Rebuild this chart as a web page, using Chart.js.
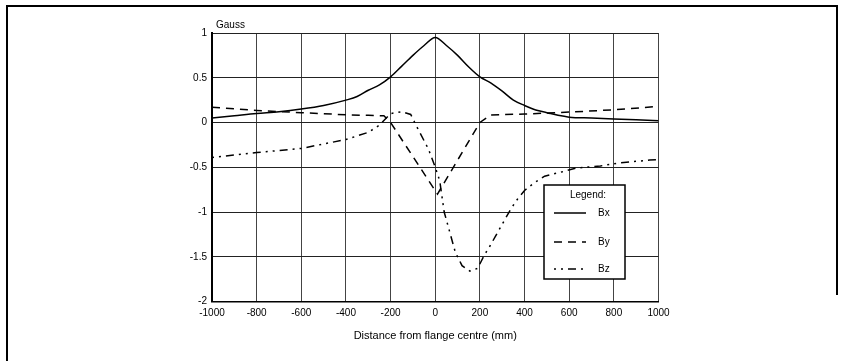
<!DOCTYPE html>
<html>
<head>
<meta charset="utf-8">
<script src="https://cdn.jsdelivr.net/npm/chart.js@4.4.1/dist/chart.umd.min.js"></script>
<style>
  html, body { margin: 0; padding: 0; background: #fff; }
  #wrap { position: relative; width: 846px; height: 361px; }
  #frameTop { position: absolute; left: 6px; top: 5px; width: 832px; height: 290px;
           border-top: 2px solid #000; border-right: 2px solid #000; box-sizing: border-box; }
  #frameLeft { position: absolute; left: 6px; top: 5px; width: 2px; height: 400px; background: #000; }
  canvas { position: absolute; left: 0; top: 0; }
</style>
</head>
<body>
<div id="wrap">
  <div id="frameTop"></div>
  <div id="frameLeft"></div>
  <canvas id="c" width="846" height="361"></canvas>
</div>
<script>
// ---- data ----
const xTicks = [-1000, -800, -600, -400, -200, 0, 200, 400, 600, 800, 1000];
const yTicks = [1, 0.5, 0, -0.5, -1, -1.5, -2];

const bxX = [-1000,-900,-800,-700,-600,-500,-400,-350,-300,-250,-200,-150,-100,-50,0,50,100,150,200,250,300,350,400,450,500,550,600,700,800,900,1000];
const bxY = [0.05,0.075,0.1,0.12,0.15,0.19,0.25,0.29,0.36,0.42,0.51,0.63,0.75,0.86,0.95,0.86,0.75,0.62,0.51,0.44,0.35,0.25,0.19,0.14,0.11,0.08,0.06,0.05,0.04,0.03,0.02];

const byX = [-1000,-800,-600,-400,-300,-230,-200,10,200,250,400,600,800,1000];
const byY = [0.17,0.135,0.11,0.086,0.08,0.075,0.0,-0.8,0.0,0.085,0.094,0.116,0.142,0.18];

const bzX = [-1000,-800,-600,-400,-300,-250,-200,-150,-110,-80,-30,0,20,40,90,120,155,190,220,245,270,315,340,370,400,440,490,570,630,740,830,960,1000];
const bzY = [-0.39,-0.336,-0.29,-0.19,-0.11,-0.03,0.1,0.12,0.09,-0.06,-0.3,-0.5,-0.65,-1.0,-1.45,-1.6,-1.66,-1.63,-1.48,-1.38,-1.27,-1.07,-0.96,-0.85,-0.76,-0.68,-0.6,-0.55,-0.51,-0.485,-0.45,-0.42,-0.415];

const seriesNames = ['Bx', 'By', 'Bz'];
const yAxisLabel = 'Gauss';
const xAxisLabel = 'Distance from flange centre (mm)';
const legendTitle = 'Legend:';

const FONT = '"Liberation Sans", Arial, sans-serif';

function pts(xs, ys) { return xs.map((x, i) => ({ x: x, y: ys[i] })); }

const dashes = [[], [8, 6], [2, 5, 2, 5, 8, 5]];

const textPlugin = {
  id: 'texts',
  afterDraw(chart) {
    const ctx = chart.ctx;
    const a = chart.chartArea;
    ctx.save();
    ctx.fillStyle = '#000';
    ctx.font = '10px ' + FONT;
    ctx.textAlign = 'left';
    ctx.textBaseline = 'middle';
    ctx.fillText(yAxisLabel, a.left + 4, a.top - 8);
    ctx.font = '11px ' + FONT;
    ctx.textAlign = 'center';
    ctx.fillText(xAxisLabel, (a.left + a.right) / 2, 336);

    // legend box
    const L = 544, T = 185, R = 625, B = 279;
    ctx.fillStyle = '#fff';
    ctx.fillRect(L, T, R - L, B - T);
    ctx.strokeStyle = '#000';
    ctx.lineWidth = 1.5;
    ctx.strokeRect(L, T, R - L, B - T);
    ctx.fillStyle = '#000';
    ctx.font = '10px ' + FONT;
    ctx.textAlign = 'center';
    ctx.fillText(legendTitle, 588, 195);
    const rows = [213, 242, 269];
    chart.data.datasets.forEach((ds, i) => {
      ctx.beginPath();
      ctx.setLineDash(ds.borderDash || []);
      ctx.lineWidth = ds.borderWidth;
      ctx.moveTo(554, rows[i]);
      ctx.lineTo(586, rows[i]);
      ctx.stroke();
      ctx.setLineDash([]);
      ctx.textAlign = 'left';
      ctx.fillText(ds.label, 598, rows[i]);
    });
    ctx.restore();
  }
};

new Chart(document.getElementById('c'), {
  type: 'scatter',
  data: {
    datasets: [
      { label: seriesNames[0], data: pts(bxX, bxY), borderDash: dashes[0] },
      { label: seriesNames[1], data: pts(byX, byY), borderDash: dashes[1] },
      { label: seriesNames[2], data: pts(bzX, bzY), borderDash: dashes[2] }
    ].map((d, i) => Object.assign(d, {
      showLine: true, borderColor: '#000', backgroundColor: '#000', borderWidth: 1.5,
      pointRadius: 0, pointHoverRadius: 0, fill: false,
      cubicInterpolationMode: i === 0 ? 'monotone' : 'default', tension: 0
    }))
  },
  options: {
    responsive: false,
    animation: false,
    devicePixelRatio: 1,
    layout: { padding: { left: 0, right: 187.5, top: 33, bottom: 0 } },
    plugins: { legend: { display: false }, tooltip: { enabled: false } },
    scales: {
      x: {
        type: 'linear', min: -1000, max: 1000,
        afterBuildTicks: s => { s.ticks = xTicks.map(v => ({ value: v })); },
        afterFit: s => { s.height = 59.5; },
        ticks: { color: '#000', font: { family: FONT, size: 10 }, padding: 6, maxRotation: 0, autoSkip: false,
                 callback: v => String(v) },
        grid: { color: '#444', lineWidth: 1, drawTicks: false },
        border: { color: '#000', width: 1.5 }
      },
      y: {
        type: 'linear', min: -2, max: 1,
        afterBuildTicks: s => { s.ticks = yTicks.map(v => ({ value: v })); },
        afterFit: s => { s.width = 212; },
        ticks: { color: '#000', font: { family: FONT, size: 10 }, padding: 5, autoSkip: false,
                 callback: v => String(v) },
        grid: { color: '#222', lineWidth: 1, drawTicks: false },
        border: { color: '#000', width: 2 }
      }
    }
  },
  plugins: [textPlugin]
});
</script>
</body>
</html>
